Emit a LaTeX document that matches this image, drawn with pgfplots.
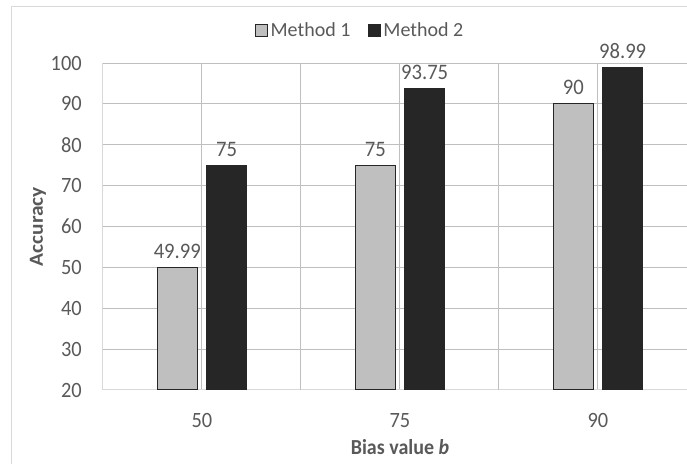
\documentclass[border=0pt]{standalone}
\usepackage{fontspec}
\setmainfont{Carlito}
\usepackage{pgfplots}
\pgfplotsset{compat=1.18}
\definecolor{txt}{HTML}{595959}
\definecolor{grid}{HTML}{D9D9D9}
\definecolor{mone}{HTML}{BFBFBF}
\definecolor{mtwo}{HTML}{262626}
\begin{document}
\begin{tikzpicture}[x=0.75pt,y=0.75pt]
\clip (-103,-74) rectangle (584,390);
\draw[grid, line width=0.75pt] (-91,-200) rectangle (700,383);
\begin{axis}[
  at={(0,0)}, anchor=south west,
  scale only axis,
  width=445.5pt, height=245.25pt,
  xmin=-0.5, xmax=2.5,
  ymin=20, ymax=100,
  ytick={20,30,...,100},
  xtick={0,1,2},
  xticklabels={50,75,90},
  extra x ticks={0.5,1.5},
  extra x tick labels={},
  extra x tick style={grid=major, major tick length=0pt},
  ymajorgrids,
  grid style={grid, line width=0.75pt},
  axis line style={grid, line width=0.75pt},
  axis x line*=bottom, axis y line*=left,
  major tick length=0pt, minor tick length=0pt,
  /pgf/number format/assume math mode=true,
  tick label style={font=\fontsize{15.3}{18}\selectfont, text=txt, inner sep=0pt, yscale=1.07},
  xticklabel style={anchor=center, yshift=-21.5pt},
  yticklabel style={anchor=east, xshift=-15.75pt},
  xlabel={\textbf{Bias value \textit{b}}},
  ylabel={\textbf{Accuracy}},
  label style={font=\fontsize{15}{18}\selectfont, text=txt},
  xlabel style={at={(axis description cs:0.5,-0.176)}, anchor=center, yscale=1.07},
  ylabel style={at={(axis description cs:-0.1094,0.5)}, anchor=center, rotate=0, xscale=1.07},
  ybar, bar width=30pt,
  nodes near coords={\pgfmathprintnumber[fixed,precision=2]{\pgfplotspointmeta}},
  every node near coord/.append style={font=\fontsize{15.5}{18}\selectfont, text=txt, anchor=center, yshift=12pt, yscale=1.07},
  legend columns=2,
  legend style={at={(0.4335,1.098)}, anchor=center, draw=none, fill=none,
    font=\fontsize{15}{18}\selectfont, text=txt,
    /tikz/every even column/.append style={column sep=11pt},
    inner sep=0pt},
  legend image code/.code={\draw[#1, line width=0.75pt] (0pt,-4.5pt) rectangle (9pt,4.5pt);},
]
\addplot[fill=mone, draw=black!85, line width=0.75pt, bar shift=-18.5pt]
  coordinates {(0,49.99) (1,75) (2,90)};
\addlegendentry{Method 1}
\addplot[fill=mtwo, draw=black!85, line width=0.75pt, bar shift=18.5pt]
  coordinates {(0,75) (1,93.75) (2,98.99)};
\addlegendentry{Method 2}
\end{axis}
\end{tikzpicture}
\end{document}
